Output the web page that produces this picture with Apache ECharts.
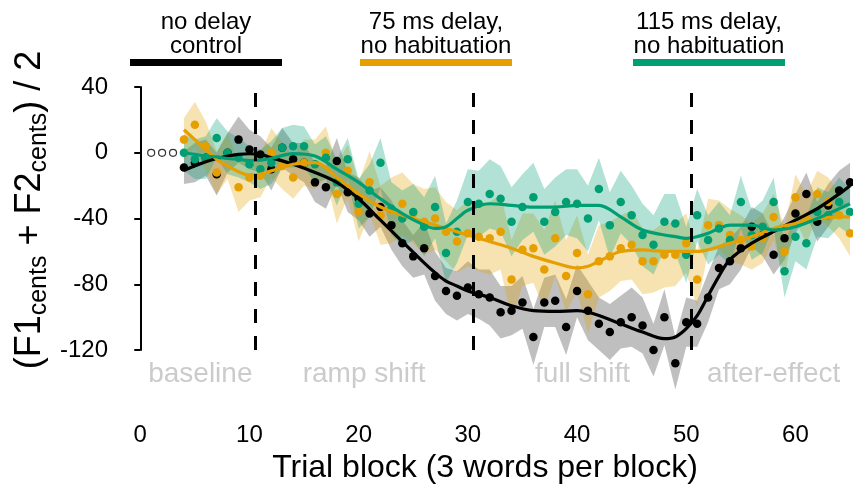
<!DOCTYPE html>
<html><head><meta charset="utf-8">
<script src="https://cdn.jsdelivr.net/npm/echarts@6/dist/echarts.min.js"></script>
<style>html,body{margin:0;padding:0;background:#fff}#c{width:853px;height:489px}</style>
</head><body><div id="c"></div>
<script>
// ---- data ----
const blocks = [4,5,6,7,8,9,10,11,12,13,14,15,16,17,18,19,20,21,22,23,24,25,26,27,28,29,30,31,32,33,34,35,36,37,38,39,40,41,42,43,44,45,46,47,48,49,50,51,52,53,54,55,56,57,58,59,60,61,62,63,64,65];
const baselineBlocks = [1,2,3];
const baselineValues = [0,0,0];

const noDelay = [-9,-6,-3,-13,0,8,2,-1,-10,3,-4,-6,-18,-21,-5,-24,-28,-37,-33,-44,-55,-63,-58,-75,-84,-87,-82,-86,-88,-97,-96,-91,-112,-91,-90,-106,-84,-96,-104,-109,-103,-100,-105,-120,-100,-128,-103,-104,-88,-70,-66,-58,-45,-50,-62,-52,-37,-25,-42,-32,-23,-18];
const delay75 = [8,17,4,-12,-2,-21,-15,-14,0,-8,-15,-6,-7,0,-25,-11,-36,-18,-38,-35,-31,-37,-42,-40,-48,-54,-49,-51,-52,-48,-77,-59,-58,-71,-52,-75,-61,-86,-66,-63,-58,-56,-66,-66,-62,-62,-55,-77,-44,-44,-50,-53,-57,-52,-39,-60,-27,-40,-25,-30,-38,-49];
const delay115 = [0,-4,-3,9,0,-3,-7,-10,-6,3,4,4,-7,-3,-18,-4,-31,-23,-6,-34,-40,-36,-45,-33,-61,-48,-30,-31,-25,-28,-42,-33,-27,-42,-36,-30,-31,-40,-22,-44,-30,-38,-50,-56,-42,-43,-62,-38,-53,-46,-53,-30,-50,-45,-30,-72,-51,-55,-36,-38,-30,-36];

const noDelaySE = [10,12,11,13,12,14,12,11,13,12,10,12, 12,13,14,12,13,14,12,15,14,13,16,15,14,15,16, 15,17,16,15,16,17,15,16,17,16,18,16,17,16,18,17,16,17,16,15, 14,15,13,14,13,12,13,12,13,12,13,12,13,12,12];
const delay75SE = [13,14,15,13,14,15,14,13,15,14,13,14, 15,16,18,16,18,19,18,20,19,18,20,19,18,19,20, 21,22,23,24,22,21,24,23,22,23,24,22,21,20,21,20,19,20,19,18, 17,16,15,16,15,14,15,14,15,14,15,14,15,14,14];
const delay115SE = [11,12,13,12,13,12,11,12,13,12,13,12, 12,13,14,13,15,16,15,16,17,17,18,19,18,19,20, 20,21,20,21,20,21,20,21,20,21,20,19,20,19,18,19,18,17,18,17, 16,15,16,15,16,15,16,15,16,15,16,15,14,15,14];

const fitX = [4,5,6,7,8,9,10,11,12,14,16,18,20,22,24,26,27,28,29,30,32,34,36,38,40,41,42,44,46,48,49,50,51,52,53,54,56,58,60,62,64,65];
const noDelayFit = [-10.7,-8,-5.5,-3.5,-2,-1,-0.6,-1,-3,-7,-12,-18,-28,-41,-54,-67,-73,-78,-81,-84,-88,-93,-96,-96.5,-96,-97,-99,-104,-109,-113,-112,-107,-99,-87,-75,-65,-55,-48,-41,-34,-25,-20];
const delay75Fit = [14,8,2,-4,-8,-11.5,-13.5,-13,-11,-7,-6,-15,-25,-33,-38,-42,-44,-46,-48,-50,-54,-58,-63,-67,-70,-69,-66,-60,-59,-60,-60,-60,-60,-59,-57,-55,-51,-46,-43,-40,-39,-39];
const delay115Fit = [0,-1,-2,-2.5,-3.5,-4,-4.7,-4.5,-3.5,-0.5,-2,-10,-18,-28,-37,-44,-46,-45,-40,-35,-31,-32,-33,-33,-32,-32,-32,-39,-47,-50,-51,-52,-51,-49,-46,-44,-44,-47,-45,-40,-34,-31];

const phaseBoundaries = [10.5, 30.5, 50.5];
const phaseNames = ['baseline','ramp shift','full shift','after-effect'];
const phaseCenters = [5.5, 20.5, 40.5, 58];
const phaseLabelY = -134.5;
const xTicks = [0,10,20,30,40,50,60];
const yTicks = [40,0,-40,-80,-120];

const groups = [
  {name:'no delay\ncontrol', values:noDelay, se:noDelaySE, fit:noDelayFit, color:'#000000', band:'rgba(0,0,0,0.25)'},
  {name:'75 ms delay,\nno habituation', values:delay75, se:delay75SE, fit:delay75Fit, color:'#E69F00', band:'rgba(230,159,0,0.30)'},
  {name:'115 ms delay,\nno habituation', values:delay115, se:delay115SE, fit:delay115Fit, color:'#009E73', band:'rgba(0,158,115,0.30)'}
];

const FONT = '"Liberation Sans", Arial, Helvetica, sans-serif';
const series = [];
groups.forEach((g) => {
  const bandData = blocks.map((x,i)=>[x, g.values[i]-g.se[i], g.values[i]+g.se[i]]);
  series.push({
    type:'custom', silent:true, clip:false,
    encode:{x:0, y:[1,2]},
    data: bandData,
    renderItem:function(params, api){
      if (params.dataIndex !== 0) return null;
      const up = bandData.map(d=>api.coord([d[0], d[2]]));
      const lo = bandData.map(d=>api.coord([d[0], d[1]])).reverse();
      return {type:'polygon', shape:{points:up.concat(lo)}, style:{fill:g.band, stroke:null}};
    }
  });
  series.push({
    type:'scatter', symbolSize:8.5, clip:false, silent:true,
    itemStyle:{color:g.color, opacity:1},
    data: blocks.map((x,i)=>[x, g.values[i]])
  });
  series.push({
    type:'line', smooth:0.35, symbol:'none', clip:false, silent:true,
    lineStyle:{color:g.color, width:3.2},
    data: fitX.map((x,i)=>[x, g.fit[i]])
  });
});
series.push({
  type:'scatter', symbolSize:0, clip:false, silent:true,
  data: phaseCenters.map(x=>[x, phaseLabelY]),
  label:{show:true, position:'inside', formatter:p=>phaseNames[p.dataIndex], color:'#BEBEBE', fontSize:28, fontFamily:FONT}
});
series.push({
  type:'scatter', symbol:'circle', symbolSize:7, clip:false, silent:true,
  itemStyle:{color:'#ffffff', borderColor:'#000000', borderWidth:1.2},
  data: baselineBlocks.map((x,i)=>[x, baselineValues[i]]),
  markLine:{
    silent:true, symbol:['none','none'], label:{show:false},
    lineStyle:{color:'#000', width:3, type:[14,13]},
    data: phaseBoundaries.map(v=>({xAxis:v}))
  }
});

// header annotations
const headerCenters = [206, 436, 709];
const graphic = [];
groups.forEach((g, gi) => {
  graphic.push({type:'text', x:headerCenters[gi], y:34, style:{text:g.name, font:'24px '+FONT, fill:'#000', align:'center', verticalAlign:'middle', lineHeight:24}});
  graphic.push({type:'rect', shape:{x:headerCenters[gi]-76, y:59, width:152, height:7}, style:{fill:g.color}});
});
graphic.push({
  type:'text', x:30, y:210, rotation:Math.PI/2,
  style:{
    text:'{a|(F1}{s|cents}{a| + F2}{s|cents}{a|) / 2}',
    align:'center', verticalAlign:'middle', fill:'#000',
    rich:{
      a:{fontSize:36, fontFamily:FONT, lineHeight:44, verticalAlign:'middle', fill:'#000'},
      s:{fontSize:25, fontFamily:FONT, lineHeight:25, verticalAlign:'bottom', fill:'#000'}
    }
  }
});

const chart = echarts.init(document.getElementById('c'), null, {renderer:'canvas'});
chart.setOption({
  animation:false,
  backgroundColor:'#ffffff',
  grid:{left:117, right:0, top:87, bottom:126, containLabel:false},
  xAxis:{
    type:'value', min:-2.13, max:65.27,
    axisLine:{show:false}, axisTick:{show:false}, splitLine:{show:false},
    axisLabel:{customValues:xTicks, fontSize:24, color:'#000', fontFamily:FONT, margin:73},
    name:'Trial block (3 words per block)', nameLocation:'middle', nameGap:95,
    nameTextStyle:{fontSize:32, color:'#000', fontFamily:FONT, verticalAlign:'top'}
  },
  yAxis:{
    type:'value', min:-120, max:40, interval:40,
    axisLine:{show:true, lineStyle:{color:'#000', width:2}},
    axisTick:{show:true, length:6, lineStyle:{color:'#000', width:2}},
    splitLine:{show:false},
    axisLabel:{customValues:yTicks, fontSize:24, color:'#000', fontFamily:FONT, margin:9}
  },
  graphic:graphic,
  series:series
});
</script></body></html>
